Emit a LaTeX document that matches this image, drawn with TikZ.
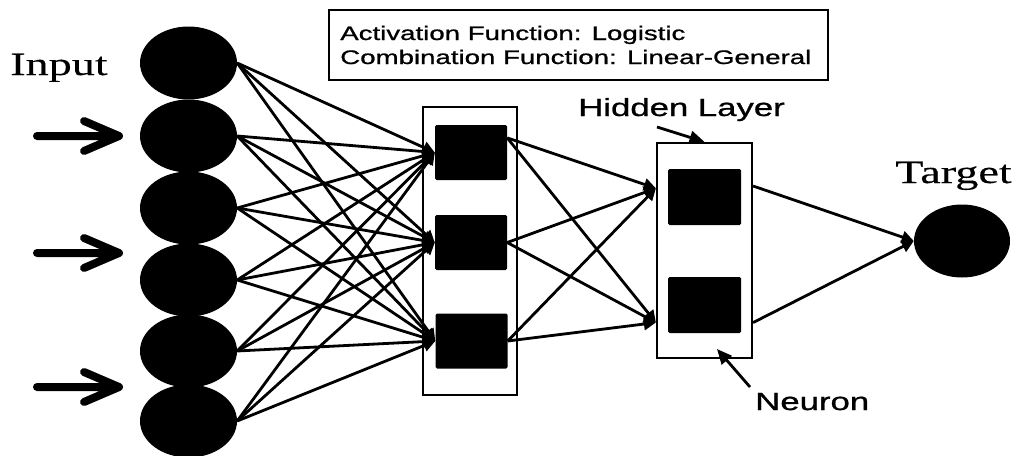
\documentclass[tikz,border=0pt]{standalone}
\usepackage{fontspec}
\setmainfont{Liberation Serif}[FakeBold=0.2]
\newfontfamily\arialf{Liberation Sans}[FakeBold=0.8]
\usetikzlibrary{shapes.geometric,arrows.meta}
\begin{document}
\begin{tikzpicture}[x=1pt,y=-1pt,
  inode/.style={ellipse,fill=black,inner sep=0,minimum width=97pt,minimum height=73pt},
  hnode/.style={rectangle,fill=black,rounded corners=1.5pt,inner sep=0,minimum width=72pt,minimum height=55pt},
  layerbox/.style={rectangle,draw=black,line width=2.2pt,inner sep=0},
  conn/.style={line width=2.8pt,-{Triangle[length=12pt,width=12pt]}},
  labarrow/.style={line width=2.8pt,-{Triangle[length=15pt,width=13pt]}},
  inarrow/.style={line width=8pt,line cap=round,line join=round},
  serifbig/.style={inner sep=0,anchor=base west,xscale=1.42,font=\fontsize{32.5}{36}\selectfont},
  sanslab/.style={inner sep=0,anchor=base west,xscale=1.4,font=\arialf\fontsize{24.8}{28}\selectfont},
  sansbox/.style={inner sep=0,anchor=base west,xscale=1.41,font=\arialf\fontsize{19.6}{24}\selectfont}
]
\fill[white] (0,0) rectangle (1019,455);
\useasboundingbox (0,0) rectangle (1019,455);

% boxes
\node[layerbox,minimum width=499pt,minimum height=70pt] (actbox) at (578.5,45) {};
\node[layerbox,minimum width=94pt,minimum height=288pt] (box1) at (470,251) {};
\node[layerbox,minimum width=95pt,minimum height=215pt] (box2) at (704.5,250.5) {};

% texts
\node[sansbox] (act1) at (340,40) {Activation Function: Logistic};
\node[sansbox] (act2) at (340,64) {Combination Function: Linear-General};
\node[serifbig] (inlab) at (10,75) {Input};
\node[serifbig] (tglab) at (895,183) {Target};
\node[sanslab] (hidlab) at (578,116) {Hidden Layer};
\node[sanslab] (neulab) at (755,410) {Neuron};

% input nodes
\foreach \k/\y in {1/63,2/136,3/208,4/280,5/351,6/421}
  \node[inode] (i\k) at (188.5,\y) {};

% hidden layer 1
\node[hnode] (a1) at (471,152.5) {};
\node[hnode] (a2) at (471,242.5) {};
\node[hnode] (a3) at (471.5,341) {};

% hidden layer 2
\node[hnode,minimum width=73pt,minimum height=56pt] (b1) at (704.5,197) {};
\node[hnode,minimum width=73pt,minimum height=56pt] (b2) at (704.5,305) {};

% target
\node[inode,minimum width=96pt] (tg) at (962,241) {};

% input -> hidden 1
\foreach \k in {1,...,6}
  \foreach \j in {1,2,3}
    \draw[conn] (i\k.east) -- (a\j.west);

% hidden 1 -> hidden 2
\coordinate (t1) at (box2.128.1);
\coordinate (t2) at (box2.236.4);
\draw[conn] (a1.22) -- (t1);
\draw[conn] (a1.22) -- (t2);
\draw[conn] (a2.east) -- (t1);
\draw[conn] (a2.east) -- (t2);
\draw[conn] (a3.east) -- (t1);
\draw[conn] (a3.east) -- (t2);

% hidden 2 -> target
\draw[conn] (box2.53) -- (tg.west);
\draw[conn] (box2.-56.4) -- (tg.west);

% label arrows
\coordinate (hs) at (657,127);
\coordinate (ns) at (750,387);
\coordinate (ne) at (717,349);
\draw[labarrow] (hs) -- (box2.north);
\draw[labarrow] (ns) -- (ne);

% input arrows
\foreach \y in {136,253,387}
  \draw[inarrow] (37,\y) -- (116,\y) (84,{\y-15}) -- (119,\y) -- (84,{\y+15});
\end{tikzpicture}
\end{document}
